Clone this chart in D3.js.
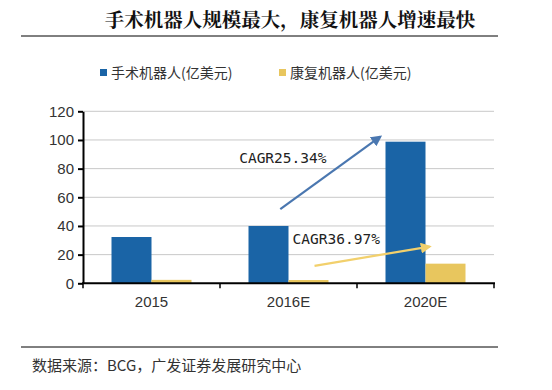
<!DOCTYPE html>
<html>
<head>
<meta charset="utf-8">
<title>手术机器人规模最大，康复机器人增速最快</title>
<style>
  body { margin: 0; background: #fff; }
  svg { display: block; }
  .tick text { font-family: "Liberation Sans Narrow", Arial, sans-serif; font-size: 15px; fill: #333; }
</style>
</head>
<body>
<script src="https://cdn.jsdelivr.net/npm/d3@7"></script>
<script>
// data
var years = ["2015", "2016E", "2020E"];
var seriesNames = ["手术机器人(亿美元)", "康复机器人(亿美元)"];
var surgical = [32.3, 40, 98.8];
var rehab = [2.4, 2.3, 13.7];
var yTicks = [0, 20, 40, 60, 80, 100, 120];
var colors = ["#1a64a6", "#e8c65e"];

// CAGR arrows: positions given as [category index + fraction, value]
var cagrLabels = ["CAGR25.34%", "CAGR36.97%"];
var arrowFrom = [[1.44, 51.8], [1.69, 12.2]];
var arrowTo = [[2.17, 102.3], [2.53, 25.6]];
var arrowColors = ["#4a77b0", "#f2d06c"];
var labelAt = [[1.14, 84], [1.53, 27.5]];

var W = 552, H = 390;
var svg = d3.select("body").append("svg").attr("width", W).attr("height", H);

var x = d3.scaleBand().domain(years).range([83, 494]);
var xs = d3.scaleBand().domain([0, 1]).range([0, 80]);
var y = d3.scaleLinear().domain([0, 120]).range([283.3, 111.3]);
var xPos = function(p) { return x.range()[0] + p * x.step(); };

// title
svg.append("text")
  .attr("x", 290).attr("y", 27)
  .attr("text-anchor", "middle")
  .style("font-family", "'Noto Serif CJK SC','Noto Sans CJK SC',serif")
  .style("font-weight", "bold")
  .style("font-size", "19.5px")
  .style("fill", "#111")
  .text("手术机器人规模最大，康复机器人增速最快");

svg.append("line").attr("x1", 21).attr("x2", 498).attr("y1", 36).attr("y2", 36)
  .style("stroke", "#000").style("stroke-width", 1);

// legend
var legX = [100, 279];
seriesNames.forEach(function(n, i) {
  var g = svg.append("g").attr("transform", "translate(" + legX[i] + ",67)");
  g.append("rect").attr("width", 7).attr("height", 7).attr("y", 2).style("fill", colors[i]);
  g.append("text").attr("x", 11).attr("y", 11)
    .style("font-family", "'Noto Sans CJK SC',sans-serif")
    .style("font-size", "14px").style("fill", "#333")
    .text(n);
});

// gridlines
svg.append("g").selectAll("line").data(yTicks.slice(1)).enter().append("line")
  .attr("x1", 83).attr("x2", 494)
  .attr("y1", function(d) { return y(d); }).attr("y2", function(d) { return y(d); })
  .style("stroke", "#c8c8c8").style("stroke-width", 1);

// bars
var groups = svg.append("g").selectAll("g").data(years).enter().append("g")
  .attr("transform", function(d) { return "translate(" + (x(d) + x.bandwidth() / 2 - 40) + ",0)"; });
groups.selectAll("rect")
  .data(function(d, i) { return [surgical[i], rehab[i]]; })
  .enter().append("rect")
  .attr("x", function(d, j) { return xs(j); })
  .attr("width", xs.bandwidth())
  .attr("y", function(d) { return y(d); })
  .attr("height", function(d) { return y(0) - y(d); })
  .style("fill", function(d, j) { return colors[j]; });

// axes
var yAxis = svg.append("g").attr("transform", "translate(83,0)")
  .call(d3.axisLeft(y).tickValues(yTicks).tickSize(5).tickSizeOuter(0).tickPadding(4));
yAxis.selectAll("line, path").style("stroke", "#000").style("stroke-width", 2);

var xAxis = svg.append("g").attr("transform", "translate(0," + y(0) + ")");
xAxis.append("line").attr("x1", 82).attr("x2", 495).style("stroke", "#000").style("stroke-width", 2);
xAxis.selectAll(".sep").data(d3.range(years.length + 1)).enter().append("line")
  .attr("x1", function(i) { return xPos(i); }).attr("x2", function(i) { return xPos(i); })
  .attr("y1", 0).attr("y2", 5).style("stroke", "#000").style("stroke-width", 1.5);
xAxis.selectAll("text").data(years).enter().append("text")
  .attr("x", function(d) { return x(d) + x.bandwidth() / 2; })
  .attr("y", 24)
  .attr("text-anchor", "middle")
  .style("font-family", "'Liberation Sans Narrow', Arial, sans-serif")
  .style("font-size", "15px").style("fill", "#333")
  .text(function(d) { return d; });

// arrows
var defs = svg.append("defs");
arrowColors.forEach(function(c, i) {
  defs.append("marker").attr("id", "ah" + i)
    .attr("viewBox", "0 0 10 10").attr("refX", 8).attr("refY", 5)
    .attr("markerWidth", 5).attr("markerHeight", 5).attr("orient", "auto")
    .append("path").attr("d", "M0,0L10,5L0,10z").style("fill", c);
});
arrowFrom.forEach(function(a, i) {
  svg.append("line")
    .attr("x1", xPos(a[0])).attr("y1", y(a[1]))
    .attr("x2", xPos(arrowTo[i][0])).attr("y2", y(arrowTo[i][1]))
    .style("stroke", arrowColors[i]).style("stroke-width", 2.2)
    .attr("marker-end", "url(#ah" + i + ")");
});
cagrLabels.forEach(function(t, i) {
  svg.append("text")
    .attr("x", xPos(labelAt[i][0])).attr("y", y(labelAt[i][1]))
    .style("font-family", "'DejaVu Sans Mono', monospace")
    .style("font-size", "14.5px").style("fill", "#222")
    .text(t);
});

// footer
svg.append("line").attr("x1", 21).attr("x2", 498).attr("y1", 347).attr("y2", 347)
  .style("stroke", "#000").style("stroke-width", 1);
svg.append("text").attr("x", 32).attr("y", 371)
  .style("font-family", "'Noto Sans CJK SC',sans-serif")
  .style("font-size", "15px").style("fill", "#333")
  .text("数据来源：BCG，广发证券发展研究中心");
</script>
</body>
</html>
